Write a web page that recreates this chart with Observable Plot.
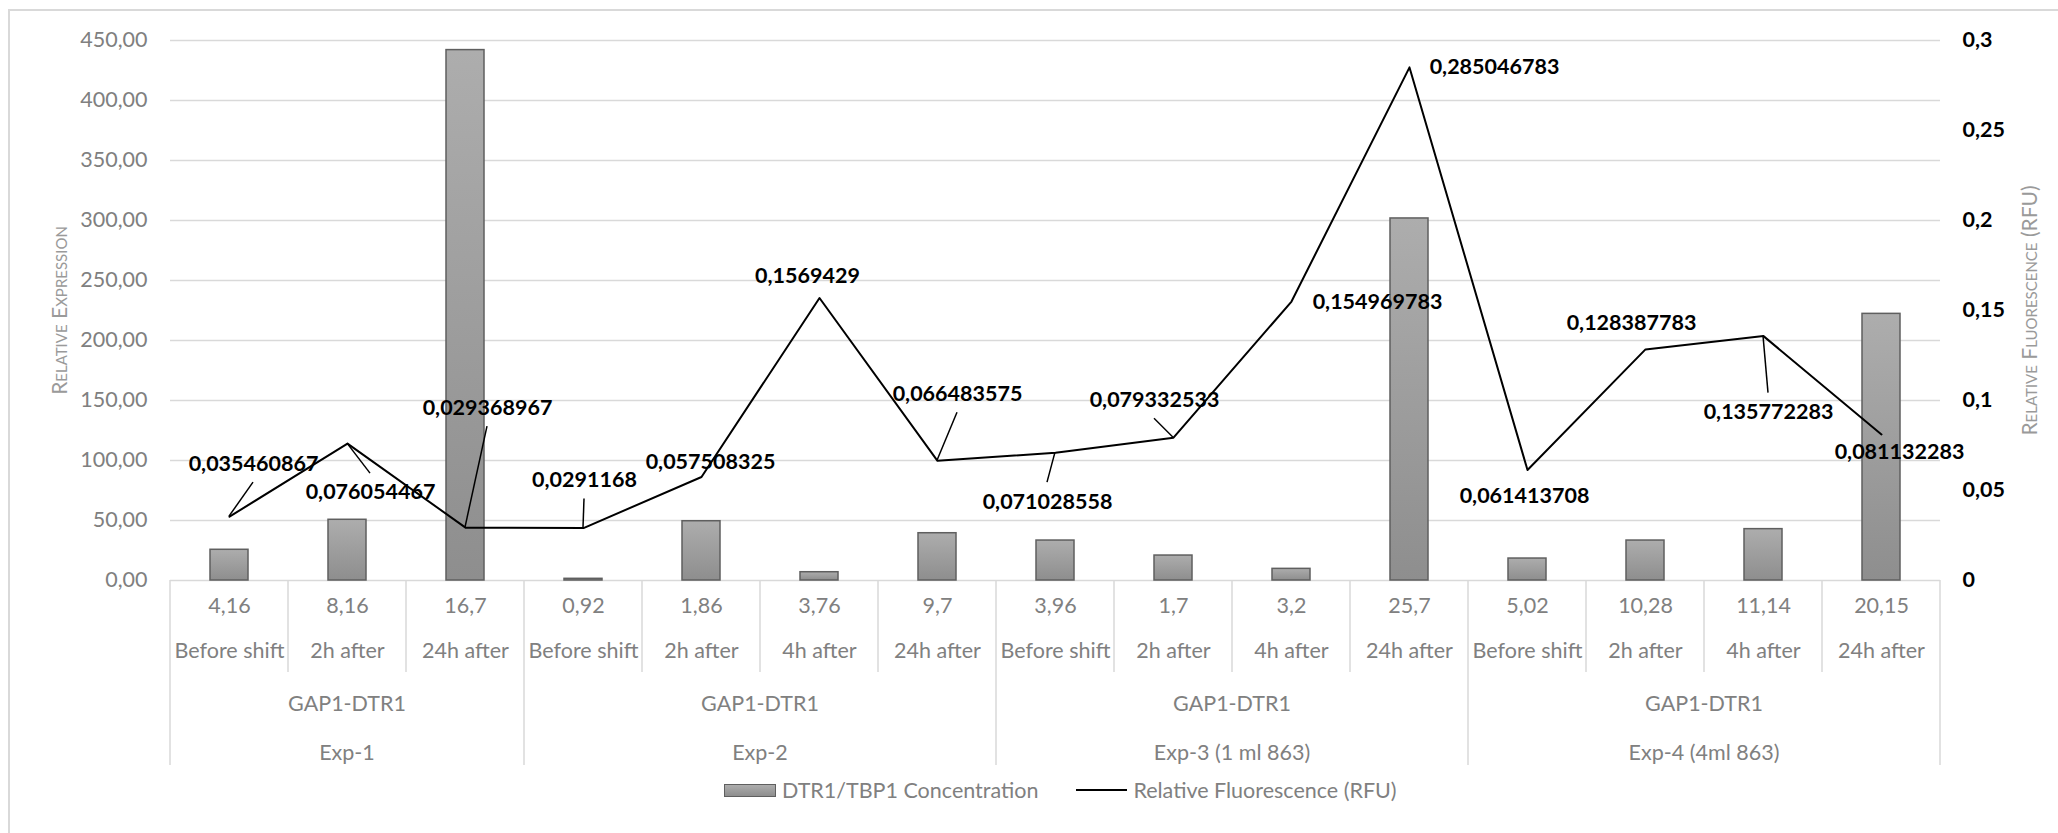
<!DOCTYPE html>
<html>
<head>
<meta charset="utf-8">
<script src="https://cdn.jsdelivr.net/npm/d3@7"></script>
<script src="https://cdn.jsdelivr.net/npm/@observablehq/plot@0.6"></script>
<style>
  html, body { margin: 0; padding: 0; background: #fff; overflow: hidden; }
  body { width: 2058px; height: 833px; position: relative; font-family: Lato, "Open Sans", sans-serif; }
  #border { position: absolute; left: 8px; top: 9px; width: 2200px; height: 1000px; border: 2px solid #d9d9d9; box-sizing: border-box; }
  #chart { position: absolute; left: 0; top: 0; }
  #legend { position: absolute; top: 775px; left: 724px; height: 30px; display: flex; align-items: center;
            font-size: 21.5px; color: #808080; white-space: nowrap; }
  #legend .sw-bar { width: 50px; height: 11px; border: 1.5px solid #5f5f5f; background: linear-gradient(#adadad, #8e8e8e); margin-right: 6px; }
  #legend .sw-line { width: 51px; height: 2.5px; background: #000; margin-left: 38px; margin-right: 6px; }
</style>
</head>
<body>
<div id="border"></div>
<div id="chart"></div>
<div id="legend">
  <span class="sw-bar"></span><span>DTR1/TBP1 Concentration</span>
  <span class="sw-line"></span><span>Relative Fluorescence (RFU)</span>
</div>
<script>
// Category levels, innermost first
const concentrations = ["4,16", "8,16", "16,7", "0,92", "1,86", "3,76", "9,7", "3,96", "1,7", "3,2", "25,7", "5,02", "10,28", "11,14", "20,15"];
const timepoints = ["Before shift", "2h after", "24h after",
                    "Before shift", "2h after", "4h after", "24h after",
                    "Before shift", "2h after", "4h after", "24h after",
                    "Before shift", "2h after", "4h after", "24h after"];
const strains = Array(15).fill("GAP1-DTR1");
const experiments = ["Exp-1", "Exp-1", "Exp-1",
                     "Exp-2", "Exp-2", "Exp-2", "Exp-2",
                     "Exp-3 (1 ml 863)", "Exp-3 (1 ml 863)", "Exp-3 (1 ml 863)", "Exp-3 (1 ml 863)",
                     "Exp-4 (4ml 863)", "Exp-4 (4ml 863)", "Exp-4 (4ml 863)", "Exp-4 (4ml 863)"];

// Series: DTR1/TBP1 relative expression (bars, left axis)
const expression = [25.6, 50.6, 442, 1.4, 49.4, 6.9, 39.4, 33.3, 20.8, 9.7, 301.7, 18.3, 33.3, 42.8, 222.2];
// Series: relative fluorescence (line, right axis)
const fluorescence = [0.035460867, 0.076054467, 0.029368967, 0.0291168, 0.057508325, 0.1569429, 0.066483575,
                      0.071028558, 0.079332533, 0.154969783, 0.285046783, 0.061413708, 0.128387783, 0.135772283, 0.081132283];

// Axis ticks
const exprTicks = [0, 50, 100, 150, 200, 250, 300, 350, 400, 450];
const rfuTicks = [0, 0.05, 0.1, 0.15, 0.2, 0.25, 0.3];

// Data-label placement (pixel offsets from the point) and leader lines
const labelOffsets = [[24, -53], [23, 49], [22, -120], [1, -48], [9, -15], [-12, -22], [20, -67],
                      [-8, 49], [-19, -38], [86, 1], [85, 0], [-3, 26], [-14, -26], [5, 76], [18, 18]];
const hasLeader = [true, true, true, true, false, false, true, true, true, false, false, false, false, true, false];

// The right axis shares the frame: 0.3 RFU lines up with 450
const k = 450 / 0.3;
const idx = d3.range(concentrations.length);
const rows = idx.map(i => ({i, conc: concentrations[i], time: timepoints[i], strain: strains[i],
                            exp: experiments[i], expr: expression[i], rfu: fluorescence[i]}));

const fmtComma = v => String(v).replace(".", ",");
const fmtExpr = d => d.toFixed(2).replace(".", ",");
const fmtRfu = d => fmtComma(+(d / k).toFixed(4));

const gray = "#808080";
const fs = 21.5;

const labelMarks = rows.map((r, i) => Plot.text([r], {
  x: "i", y: d => d.rfu * k, text: d => fmtComma(d.rfu),
  dx: labelOffsets[i][0], dy: labelOffsets[i][1],
  fontWeight: "bold", fill: "#000", fontSize: fs
}));

const chart = Plot.plot({
  width: 2058,
  height: 775,
  marginLeft: 170,
  marginRight: 118,
  marginTop: 40,
  marginBottom: 195,
  style: {fontFamily: "Lato, 'Open Sans', sans-serif", fontSize: fs + "px", background: "transparent", overflow: "visible"},
  x: {type: "band", domain: idx, padding: 0, axis: null},
  y: {domain: [0, 450], axis: null},
  marks: [
    Plot.ruleY(exprTicks, {stroke: "#d9d9d9", strokeWidth: 1.5}),
    Plot.axisY(exprTicks, {anchor: "left", tickSize: 0, tickPadding: 23, tickFormat: fmtExpr, fill: gray, fontSize: fs, label: null}),
    Plot.axisY(rfuTicks.map(v => v * k), {anchor: "right", tickSize: 0, tickPadding: 22, tickFormat: fmtRfu,
      fill: "#000", fontWeight: "bold", fontSize: fs, textAnchor: "start", label: null}),
    Plot.text(["Relative Expression"], {frameAnchor: "left", textAnchor: "middle", dx: -110, rotate: -90,
      fontVariant: "small-caps", fill: "#9a9a9a", fontSize: 21, text: d => d}),
    Plot.text(["Relative Fluorescence (RFU)"], {frameAnchor: "right", textAnchor: "middle", dx: 90, rotate: -90,
      fontVariant: "small-caps", fill: "#9a9a9a", fontSize: 21, text: d => d}),
    Plot.barY(rows, {x: "i", y: "expr", insetLeft: 40, insetRight: 40,
      fill: "url(#barFill)", stroke: "#5f5f5f", strokeWidth: 1.5}),
    Plot.line(rows, {x: "i", y: d => d.rfu * k, stroke: "#000", strokeWidth: 2}),
    Plot.text(rows, {x: "i", text: "conc", frameAnchor: "bottom", dy: 32, fill: gray, fontSize: fs}),
    Plot.text(rows, {x: "i", text: "time", frameAnchor: "bottom", dy: 77, fill: gray, fontSize: fs}),
    ...labelMarks
  ]
});
document.getElementById("chart").appendChild(chart);

// Bar gradient, category separators, group labels and leader lines, placed with the plot's scales
const sx = chart.scale("x"), sy = chart.scale("y");
const bw = sx.bandwidth;
const cx = i => sx.apply(i) + bw / 2;
const svg = d3.select(chart);

const grad = svg.insert("defs", ":first-child").append("linearGradient")
  .attr("id", "barFill").attr("x1", 0).attr("y1", 0).attr("x2", 0).attr("y2", 1);
grad.append("stop").attr("offset", "0%").attr("stop-color", "#adadad");
grad.append("stop").attr("offset", "100%").attr("stop-color", "#8e8e8e");

const base = sy.apply(0);
const groups = [];
idx.forEach(i => {
  const key = experiments[i] + "|" + strains[i];
  if (!groups.length || groups[groups.length - 1].key !== key) groups.push({key, start: i, end: i, exp: experiments[i], strain: strains[i]});
  else groups[groups.length - 1].end = i;
});
const starts = new Set(groups.map(g => g.start));

const axisG = svg.append("g").attr("stroke", "#d9d9d9").attr("stroke-width", 1.5);
idx.forEach(i => {
  const x = sx.apply(i);
  axisG.append("line").attr("x1", x).attr("x2", x).attr("y1", base).attr("y2", base + (starts.has(i) ? 185 : 92));
});
const xEnd = sx.apply(idx[idx.length - 1]) + bw;
axisG.append("line").attr("x1", xEnd).attr("x2", xEnd).attr("y1", base).attr("y2", base + 185);

const textG = svg.append("g").attr("fill", gray).attr("font-size", fs).attr("text-anchor", "middle")
  .attr("dominant-baseline", "central");
groups.forEach(g => {
  const mid = (sx.apply(g.start) + sx.apply(g.end) + bw) / 2;
  textG.append("text").attr("x", mid).attr("y", base + 123).text(g.strain);
  textG.append("text").attr("x", mid).attr("y", base + 172).text(g.exp);
});

const leadG = svg.append("g").attr("stroke", "#000").attr("stroke-width", 1.5);
rows.forEach((r, i) => {
  if (!hasLeader[i]) return;
  const [dx, dy] = labelOffsets[i];
  const x0 = cx(i), y0 = sy.apply(r.rfu * k);
  leadG.append("line").attr("x1", x0).attr("y1", y0)
    .attr("x2", x0 + dx).attr("y2", y0 + dy - Math.sign(dy) * 19);
});
</script>
</body>
</html>
